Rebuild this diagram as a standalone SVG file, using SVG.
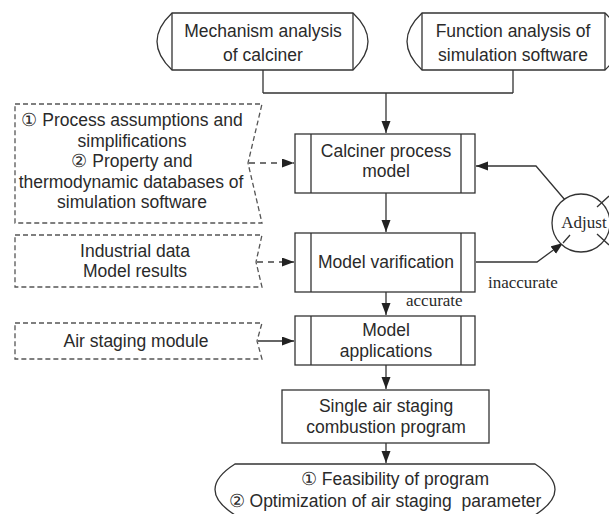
<svg xmlns="http://www.w3.org/2000/svg" width="609" height="514" viewBox="0 0 609 514">
<defs>
<marker id="ah" markerUnits="userSpaceOnUse" markerWidth="13" markerHeight="10" refX="12" refY="4.5" orient="auto">
<path d="M0,0 L12,4.5 L0,9 Z" fill="#222"/>
</marker>
<style>
.s{fill:#fff;stroke:#333;stroke-width:1.3}
.d{fill:#fff;stroke:#555;stroke-width:1.3;stroke-dasharray:5 3}
.l{fill:none;stroke:#333;stroke-width:1.3}
.ld{fill:none;stroke:#444;stroke-width:1.3;stroke-dasharray:6 5}
.t{font-family:"Liberation Sans",Arial,sans-serif;font-size:17.5px;fill:#2a2a2a;text-anchor:middle}
.r{font-family:"Liberation Serif","Times New Roman",serif;font-size:17px;fill:#2a2a2a}
</style>
</defs>
<rect width="609" height="514" fill="#fff"/>

<g id="connectors">
<path class="l" d="M263,70 V93 M513,70 V93 M263,93 H513"/>
<path class="l" d="M386,93 V133" marker-end="url(#ah)"/>
<path class="l" d="M386,193 V232" marker-end="url(#ah)"/>
<path class="l" d="M386,292 V315" marker-end="url(#ah)"/>
<path class="l" d="M386,365 V389" marker-end="url(#ah)"/>
<path class="l" d="M386,443 V463" marker-end="url(#ah)"/>
<path class="ld" d="M249,163 H294" marker-end="url(#ah)"/>
<path class="ld" d="M257,262 H294" marker-end="url(#ah)"/>
<path class="l" d="M258,341 H294" marker-end="url(#ah)"/>
<path class="l" d="M571,207 L536,166 H476" marker-end="url(#ah)"/>
<path class="l" d="M476,262 H537 L563,243" marker-end="url(#ah)"/>
<text class="r" x="488" y="288">inaccurate</text>
<text class="r" x="406" y="306">accurate</text>
</g>

<g id="mechanism">
<path class="s" d="M172,13 H353 Q383,41.5 353,70 H172 Q142,41.5 172,13 Z"/>
<path class="l" d="M172,13 V70 M353,13 V70"/>
<text class="t" x="263" y="37">Mechanism analysis</text>
<text class="t" x="263" y="61">of calciner</text>
</g>

<g id="function">
<path class="s" d="M422,13 H605 Q635,41.5 605,70 H422 Q392,41.5 422,13 Z"/>
<path class="l" d="M422,13 V70 M605,13 V70"/>
<text class="t" x="513" y="37">Function analysis of</text>
<text class="t" x="513" y="61">simulation software</text>
</g>

<g id="assumptions">
<path class="d" d="M15,104 H262 L248,163 L262,223 H15 Z"/>
<text class="t" x="132" y="126">① Process assumptions and</text>
<text class="t" x="132" y="147">simplifications</text>
<text class="t" x="132" y="167">② Property and</text>
<text class="t" x="131" y="188">thermodynamic databases of</text>
<text class="t" x="132" y="208">simulation software</text>
</g>

<g id="industrial">
<path class="d" d="M15,235 H262 L256,262 L262,287 H15 Z"/>
<text class="t" x="135" y="257">Industrial data</text>
<text class="t" x="135" y="277">Model results</text>
</g>

<g id="airmodule">
<path class="d" d="M15,323 H262 L257,341 L262,359 H15 Z"/>
<text class="t" x="136" y="347">Air staging module</text>
</g>

<g id="calciner">
<rect class="s" x="295" y="134" width="180" height="59"/>
<path class="l" d="M311,134 V193 M461,134 V193"/>
<text class="t" x="386" y="157">Calciner process</text>
<text class="t" x="386" y="177">model</text>
</g>

<g id="varification">
<rect class="s" x="295" y="233" width="180" height="59"/>
<path class="l" d="M311,233 V292 M461,233 V292"/>
<text class="t" x="386" y="268">Model varification</text>
</g>

<g id="applications">
<rect class="s" x="295" y="316" width="180" height="49"/>
<path class="l" d="M311,316 V365 M461,316 V365"/>
<text class="t" x="386" y="336">Model</text>
<text class="t" x="386" y="357">applications</text>
</g>

<g id="single">
<rect class="s" x="282" y="390" width="207" height="53"/>
<text class="t" x="386" y="412">Single air staging</text>
<text class="t" x="386" y="433">combustion program</text>
</g>

<g id="result">
<path class="s" d="M235,464 H535 Q575,489.5 535,515 H235 Q195,489.5 235,464 Z"/>
<text class="t" x="395" y="485">① Feasibility of program</text>
<text class="t" x="385" y="507" style="white-space:pre">② Optimization of air staging  parameter</text>
</g>

<g id="adjust">
<circle class="s" cx="581" cy="223" r="29"/>
<path class="l" d="M597,207 L609,196 M597,234 L609,245 M563,243 L570,235"/>
<text class="r" x="584" y="228" text-anchor="middle">Adjust</text>
</g>
</svg>
